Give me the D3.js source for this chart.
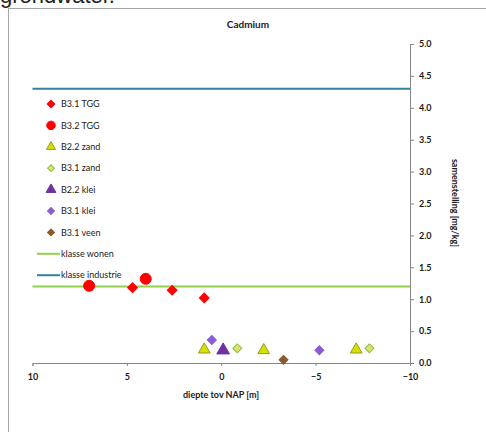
<!DOCTYPE html>
<html>
<head>
<meta charset="utf-8">
<script src="https://cdn.jsdelivr.net/npm/d3@7"></script>
<style>
  body { margin: 0; background: #fff; }
  text { font-family: Lato, "Open Sans", sans-serif; fill: #1a1a1a; }
</style>
</head>
<body>
<div id="wrapper"></div>
<script>
// data: x = diepte tov NAP [m], y = samenstelling [mg/kg]
const b31tgg = [[4.7, 1.18], [2.6, 1.14], [0.9, 1.02]];
const b32tgg = [[7.0, 1.21], [4.0, 1.32]];
const b22zand = [[0.9, 0.21], [-2.25, 0.2], [-7.15, 0.21]];
const b31zand = [[-0.85, 0.23], [-7.85, 0.23]];
const b22klei = [[-0.1, 0.2]];
const b31klei = [[0.5, 0.36], [-5.2, 0.2]];
const b31veen = [[-3.3, 0.05]];
const klasseWonen = 1.2;
const klasseIndustrie = 4.3;
const xTicks = [10, 5, 0, -5, -10];
const yTicks = [0, 0.5, 1, 1.5, 2, 2.5, 3, 3.5, 4, 4.5, 5];

// diamonds are squares turned 45 degrees, like the spreadsheet markers
const series = [
  { name: "B3.1  TGG", data: b31tgg, shape: d3.symbolSquare, rot: 45, size: 48, fill: "#ff0000", stroke: "#ff0000" },
  { name: "B3.2 TGG", data: b32tgg, shape: d3.symbolCircle, rot: 0, size: 95, fill: "#ff0000", stroke: "#ff0000" },
  { name: "B2.2 zand", data: b22zand, shape: d3.symbolTriangle, rot: 0, size: 60, fill: "#d4e000", stroke: "#9a9a20" },
  { name: "B3.1 zand", data: b31zand, shape: d3.symbolSquare, rot: 45, size: 40, fill: "#d6e46a", stroke: "#8fbc4a" },
  { name: "B2.2 klei", data: b22klei, shape: d3.symbolTriangle, rot: 0, size: 70, fill: "#7030a0", stroke: "#7030a0" },
  { name: "B3.1 klei", data: b31klei, shape: d3.symbolSquare, rot: 45, size: 40, fill: "#8a5cd0", stroke: "#8a5cd0" },
  { name: "B3.1 veen", data: b31veen, shape: d3.symbolSquare, rot: 45, size: 40, fill: "#8b5a2b", stroke: "#8b5a2b" },
];
const lines = [
  { name: "klasse wonen", value: klasseWonen, color: "#92d050" },
  { name: "klasse industrie", value: klasseIndustrie, color: "#31849b" },
];

const width = 486;
const height = 432;

const svg = d3.select("#wrapper")
  .append("svg")
  .attr("width", width)
  .attr("height", height);

// heading above the chart (cut off in the picture)
svg.append("text")
  .attr("x", 0)
  .attr("y", 3)
  .style("font-family", "'Liberation Sans', Arial, sans-serif")
  .style("font-size", "22px")
  .style("fill", "#222")
  .text("grondwater.");

// chart frame
svg.append("rect")
  .attr("x", 8.5)
  .attr("y", 8.5)
  .attr("width", 500)
  .attr("height", 500)
  .attr("fill", "#fff")
  .attr("stroke", "#a6a6a6");

svg.append("text")
  .attr("x", 248)
  .attr("y", 28)
  .attr("text-anchor", "middle")
  .style("font-size", "10px")
  .style("font-weight", "700")
  .text("Cadmium");

// scales
const x = d3.scaleLinear().domain([10, -10]).range([32.5, 410]);
const y = d3.scaleLinear().domain([0, 5]).range([363, 44]);

// axes
const xAxis = svg.append("g")
  .attr("transform", `translate(0,${y(0)})`)
  .call(d3.axisBottom(x).tickValues(xTicks).tickSize(3).tickFormat(d3.format("d")));
xAxis.select(".domain").attr("stroke", "#868686");
xAxis.selectAll(".tick line").attr("stroke", "#868686");
xAxis.selectAll(".tick text")
  .attr("dy", "1.2em")
  .style("font-size", "9px")
  .style("font-weight", "700")
  .style("font-family", "Lato, sans-serif");

const yAxis = svg.append("g")
  .attr("transform", `translate(${x(-10)},0)`)
  .call(d3.axisRight(y).tickValues(yTicks).tickSize(4).tickFormat(d3.format(".1f")));
yAxis.select(".domain").attr("stroke", "#868686");
yAxis.selectAll(".tick line").attr("stroke", "#868686");
yAxis.selectAll(".tick text")
  .attr("x", 9)
  .style("font-size", "9px")
  .style("font-weight", "700")
  .style("font-family", "Lato, sans-serif");

svg.append("text")
  .attr("x", 221)
  .attr("y", 398)
  .attr("text-anchor", "middle")
  .style("font-size", "9px")
  .style("font-weight", "700")
  .text("diepte tov NAP [m]");

svg.append("text")
  .attr("transform", "translate(452,203) rotate(90)")
  .attr("text-anchor", "middle")
  .style("font-size", "9px")
  .style("font-weight", "700")
  .text("samenstelling [mg/kg]");

// class lines
svg.selectAll(".klasse")
  .data(lines)
  .join("line")
  .attr("class", "klasse")
  .attr("x1", x(10))
  .attr("x2", x(-10))
  .attr("y1", (d) => y(d.value))
  .attr("y2", (d) => y(d.value))
  .attr("stroke", (d) => d.color)
  .attr("stroke-width", 2);

// legend
const legend = svg.append("g").attr("transform", "translate(0,104)");
const rowH = 21.4;
series.forEach((s, i) => {
  const g = legend.append("g").attr("transform", `translate(0,${i * rowH})`);
  g.append("path")
    .attr("transform", `translate(51,0) rotate(${s.rot})`)
    .attr("d", d3.symbol(s.shape, s.size * 0.6)())
    .attr("fill", s.fill)
    .attr("stroke", s.stroke);
  g.append("text")
    .attr("x", 61)
    .attr("dy", "0.35em")
    .style("font-size", "9px")
    .text(s.name);
});
lines.forEach((l, i) => {
  const g = legend.append("g").attr("transform", `translate(0,${(series.length + i) * rowH})`);
  g.append("line")
    .attr("x1", 37).attr("x2", 60)
    .attr("stroke", l.color)
    .attr("stroke-width", 2);
  g.append("text")
    .attr("x", 61)
    .attr("dy", "0.35em")
    .style("font-size", "9px")
    .text(l.name);
});

// points
series.forEach((s) => {
  svg.append("g")
    .selectAll("path")
    .data(s.data)
    .join("path")
    .attr("transform", (d) => `translate(${x(d[0])},${y(d[1])}) rotate(${s.rot})`)
    .attr("d", d3.symbol(s.shape, s.size)())
    .attr("fill", s.fill)
    .attr("stroke", s.stroke);
});
</script>
</body>
</html>
